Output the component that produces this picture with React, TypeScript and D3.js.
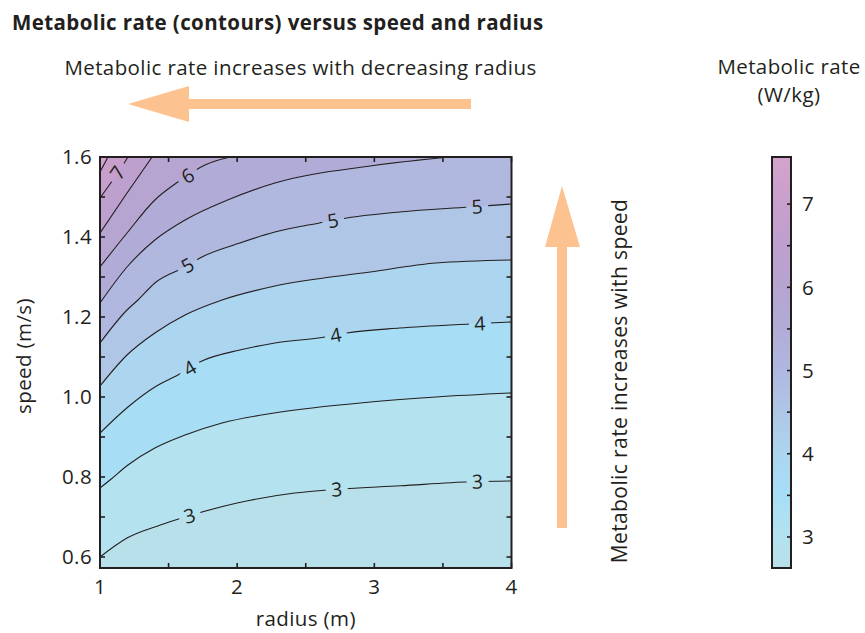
import React from "react";
import * as d3 from "d3";

// ---------- data ----------
const radiusTicks = [1, 2, 3, 4];
const radiusMinorTicks = [1, 1.5, 2, 2.5, 3, 3.5, 4];
const speedTicks = [0.6, 0.8, 1.0, 1.2, 1.4, 1.6];
const speedMinorTicks = [0.6, 0.7, 0.8, 0.9, 1.0, 1.1, 1.2, 1.3, 1.4, 1.5, 1.6];
const colorbarTicks = [3, 4, 5, 6, 7];
const colorbarMinorTicks = [3, 3.5, 4, 4.5, 5, 5.5, 6, 6.5, 7];

const radiusDomain = [1, 4];
const speedDomain = [0.5725, 1.6];
const rateDomain = [2.627, 7.566];

const levels = [3, 3.5, 4, 4.5, 5, 5.5, 6, 6.5, 7, 7.5];

// contour lines: [radius, speed]
const contour30 = [[1, 0.6], [1.2, 0.648], [1.44, 0.68], [1.62, 0.7], [2.0, 0.735], [2.42, 0.76], [2.68, 0.768], [3.19, 0.778], [3.7, 0.788], [4, 0.79]];
const contour35 = [[1, 0.7725], [1.073, 0.7925], [1.204, 0.83], [1.4, 0.8725], [1.62, 0.905], [1.89, 0.935], [2.27, 0.96], [2.97, 0.9875], [3.45, 1.0], [4, 1.01]];
const contour40 = [[1, 0.91], [1.204, 0.975], [1.4, 1.025], [1.568, 1.055], [1.743, 1.09], [2.02, 1.1175], [2.275, 1.135], [2.64, 1.15], [2.8, 1.16], [3.185, 1.1725], [3.695, 1.1825], [4, 1.1875]];
const contour45 = [[1, 1.0275], [1.197, 1.105], [1.4, 1.16], [1.62, 1.205], [1.89, 1.2425], [2.275, 1.2775], [2.97, 1.3125], [3.45, 1.335], [4, 1.3425]];
const contour50 = [[1, 1.135], [1.197, 1.2175], [1.277, 1.2425], [1.4, 1.285], [1.62, 1.325], [1.743, 1.35], [2.02, 1.385], [2.275, 1.4125], [2.6, 1.435], [2.8, 1.4475], [3.185, 1.4625], [3.695, 1.475], [4, 1.4825]];
const contour55 = [[1, 1.235], [1.197, 1.325], [1.4, 1.3925], [1.62, 1.4425], [1.93, 1.4925], [2.275, 1.535], [2.97, 1.5775], [3.55, 1.6]];
const contour60 = [[1, 1.325], [1.197, 1.41], [1.4, 1.4925], [1.568, 1.5375], [1.765, 1.58], [1.947, 1.6]];
const contour65 = [[1, 1.41], [1.197, 1.51], [1.38, 1.6]];
const contour70 = [[1, 1.4975], [1.073, 1.5325], [1.168, 1.58], [1.204, 1.6]];
const contour75 = [[1, 1.5625], [1.058, 1.6]];

const contourLines = [contour30, contour35, contour40, contour45, contour50, contour55, contour60, contour65, contour70, contour75];

// inline label positions (radius along each labelled level)
const labelLevels = [3, 4, 5, 6, 7];
const labelRadii = [
  [1.655, 2.726, 3.753],
  [1.655, 2.72, 3.77],
  [1.64, 2.7, 3.75],
  [1.64],
  [1.13],
];

// colormap
const cmapValues = [2.627, 3.0, 3.5, 4.0, 4.5, 5.0, 5.5, 6.0, 6.5, 7.0, 7.566];
const cmapColors = ["#b8e0ea", "#b4e2ef", "#a7def6", "#acd5f0", "#afc6e7", "#b0b8df", "#b1acd7", "#b6a4d1", "#bea0ce", "#c89fcc", "#d4a3cc"];

// ---------- layout ----------
const W = 865;
const H = 633;
const PL = 100, PR = 511.5, PT = 157, PB = 568;
const CBL = 772, CBR = 791;
const FONT = "'Open Sans', 'Noto Sans', sans-serif";
const INK = "#231f20";
const ARROW = "#fcc290";
const FS = 20.5;
const LS = 0.4;

export default function App() {
  const x = d3.scaleLinear().domain(radiusDomain).range([PL, PR]);
  const y = d3.scaleLinear().domain(speedDomain).range([PB, PT]);
  const cb = d3.scaleLinear().domain(rateDomain).range([PB, PT]);
  const cmap = d3.scaleLinear<string>().domain(cmapValues).range(cmapColors).interpolate(d3.interpolateRgb);

  const lineGen = d3
    .line<number[]>()
    .x((d) => x(d[0]))
    .y((d) => y(d[1]))
    .curve(d3.curveMonotoneX);

  const rMax = radiusDomain[1];
  const rMin = radiusDomain[0];
  const sMax = speedDomain[1];

  const fills = contourLines.map((pts, i) => {
    const last = pts[pts.length - 1];
    let d = lineGen(pts) as string;
    if (last[0] >= rMax - 1e-6) d += ` L${x(rMax)},${y(sMax)}`;
    d += ` L${x(rMin)},${y(sMax)} Z`;
    return { d, color: cmap(levels[i]) };
  });

  const labels: { x: number; y: number; a: number; t: string }[] = [];
  labelLevels.forEach((lv, li) => {
    const pts = contourLines[levels.indexOf(lv)];
    const interp = d3.scaleLinear().domain(pts.map((p) => p[0])).range(pts.map((p) => p[1]));
    labelRadii[li].forEach((r) => {
      const dr = 0.04;
      const x1 = x(r - dr), y1 = y(interp(r - dr));
      const x2 = x(r + dr), y2 = y(interp(r + dr));
      const a = (Math.atan2(y2 - y1, x2 - x1) * 180) / Math.PI;
      labels.push({ x: x(r), y: y(interp(r)), a, t: String(lv) });
    });
  });

  const gradStops = cmapValues.map((v, i) => ({
    offset: (1 - (cb(v) - PT) / (PB - PT)) * 100,
    color: cmapColors[i],
  }));

  const tickLen = 5;

  return (
    <svg width={W} height={H} style={{ position: "absolute", left: 0, top: 0 }} fontFamily={FONT} letterSpacing={LS}>
      <defs>
        <clipPath id="plotClip">
          <rect x={PL} y={PT} width={PR - PL} height={PB - PT} />
        </clipPath>
        <mask id="labelMask" maskUnits="userSpaceOnUse" x={0} y={0} width={W} height={H}>
          <rect x={0} y={0} width={W} height={H} fill="white" />
          {labels.map((l, i) => (
            <rect key={i} x={-11} y={-9} width={22} height={18} fill="black" transform={`translate(${l.x},${l.y}) rotate(${l.a})`} />
          ))}
        </mask>
        <linearGradient id="cbGrad" x1="0" y1="1" x2="0" y2="0">
          {gradStops.map((s, i) => (
            <stop key={i} offset={`${s.offset}%`} stopColor={s.color} />
          ))}
        </linearGradient>
      </defs>

      {/* title */}
      <text x={12} y={30} fontSize={FS} fontWeight="bold" fill={INK}>
        Metabolic rate (contours) versus speed and radius
      </text>
      <text x={300.5} y={75} fontSize={FS} textAnchor="middle" fill={INK}>
        Metabolic rate increases with decreasing radius
      </text>

      {/* horizontal arrow */}
      <rect x={185} y={99} width={286} height={10} fill={ARROW} />
      <path d="M128,104 L189,86 L189,122 Z" fill={ARROW} />

      {/* vertical arrow */}
      <rect x={557} y={244} width={10} height={284} fill={ARROW} />
      <path d="M562,186 L545,247 L580,247 Z" fill={ARROW} />
      <text transform="translate(627,381) rotate(-90)" fontSize={21} textAnchor="middle" fill={INK}>
        Metabolic rate increases with speed
      </text>

      {/* filled contours */}
      <g clipPath="url(#plotClip)">
        <rect x={PL} y={PT} width={PR - PL} height={PB - PT} fill={cmap(rateDomain[0])} />
        {fills.map((f, i) => (
          <path key={i} d={f.d} fill={f.color} stroke="none" />
        ))}
        <g mask="url(#labelMask)">
          {contourLines.map((pts, i) => (
            <path key={i} d={lineGen(pts) as string} fill="none" stroke={INK} strokeWidth={1.1} />
          ))}
        </g>
      </g>
      {labels.map((l, i) => (
        <text key={i} transform={`translate(${l.x},${l.y}) rotate(${l.a})`} fontSize={19.5} textAnchor="middle" dy="0.36em" fill={INK}>
          {l.t}
        </text>
      ))}

      {/* axes frame and ticks */}
      <rect x={PL} y={PT} width={PR - PL} height={PB - PT} fill="none" stroke={INK} strokeWidth={2} />
      {radiusMinorTicks.map((r, i) => (
        <g key={i}>
          <line x1={x(r)} x2={x(r)} y1={PB} y2={PB - tickLen} stroke={INK} strokeWidth={1.6} />
          <line x1={x(r)} x2={x(r)} y1={PT} y2={PT + tickLen} stroke={INK} strokeWidth={1.6} />
        </g>
      ))}
      {speedMinorTicks.map((s, i) => (
        <g key={i}>
          <line x1={PL} x2={PL + tickLen} y1={y(s)} y2={y(s)} stroke={INK} strokeWidth={1.6} />
          <line x1={PR} x2={PR - tickLen} y1={y(s)} y2={y(s)} stroke={INK} strokeWidth={1.6} />
        </g>
      ))}
      {radiusTicks.map((r, i) => (
        <text key={i} x={x(r)} y={594} fontSize={FS} textAnchor="middle" fill={INK}>
          {r}
        </text>
      ))}
      {speedTicks.map((s, i) => (
        <text key={i} x={92} y={y(s)} dy="0.36em" fontSize={FS} textAnchor="end" fill={INK}>
          {s.toFixed(1)}
        </text>
      ))}
      <text x={(PL + PR) / 2} y={626} fontSize={FS} textAnchor="middle" fill={INK}>
        radius (m)
      </text>
      <text transform="translate(31,356) rotate(-90)" fontSize={FS} textAnchor="middle" fill={INK}>
        speed (m/s)
      </text>

      {/* colorbar */}
      <rect x={CBL} y={PT} width={CBR - CBL} height={PB - PT} fill="url(#cbGrad)" stroke={INK} strokeWidth={2} />
      {colorbarMinorTicks.map((v, i) => (
        <line key={i} x1={CBR} x2={CBR - 4} y1={cb(v)} y2={cb(v)} stroke={INK} strokeWidth={1.6} />
      ))}
      {colorbarTicks.map((v, i) => (
        <text key={i} x={802} y={cb(v)} dy="0.36em" fontSize={FS} fill={INK}>
          {v}
        </text>
      ))}
      <text x={789} y={74} fontSize={FS} textAnchor="middle" fill={INK}>
        Metabolic rate
      </text>
      <text x={789} y={102} fontSize={FS} textAnchor="middle" fill={INK}>
        (W/kg)
      </text>
    </svg>
  );
}
